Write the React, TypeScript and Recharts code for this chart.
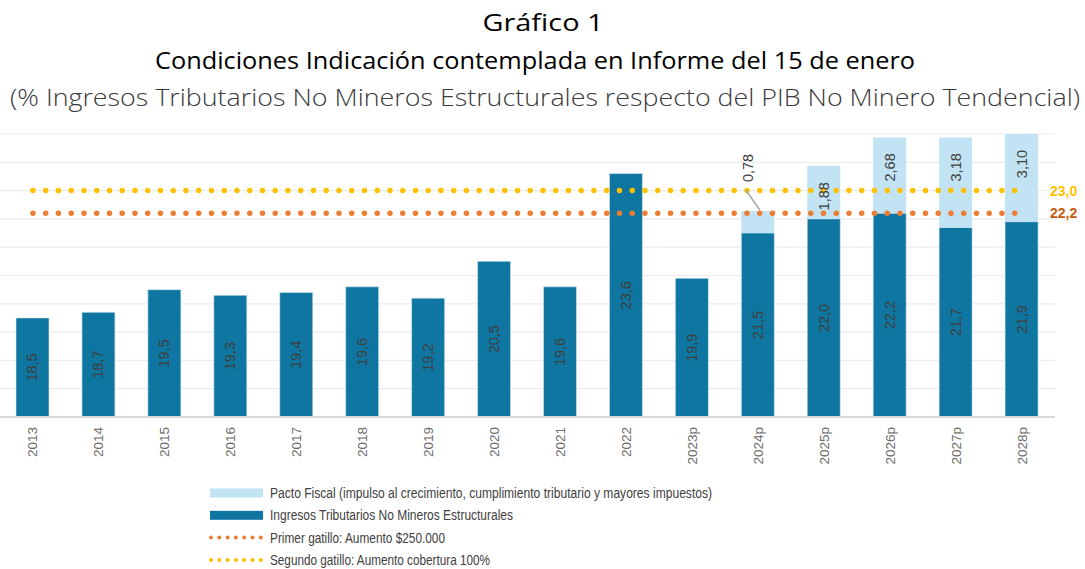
import { ComposedChart, Bar, Line, XAxis, YAxis, CartesianGrid, LabelList } from "recharts";

const years = ["2013", "2014", "2015", "2016", "2017", "2018", "2019", "2020", "2021", "2022", "2023p", "2024p", "2025p", "2026p", "2027p", "2028p"];
const ingresos = [18.5, 18.7, 19.5, 19.3, 19.4, 19.6, 19.2, 20.5, 19.6, 23.6, 19.9, 21.5, 22.0, 22.2, 21.7, 21.9];
const pacto = [null, null, null, null, null, null, null, null, null, null, null, 0.78, 1.88, 2.68, 3.18, 3.1];
const primerGatillo = [22.2, 22.2, 22.2, 22.2, 22.2, 22.2, 22.2, 22.2, 22.2, 22.2, 22.2, 22.2, 22.2, 22.2, 22.2, 22.2];
const segundoGatillo = [23.0, 23.0, 23.0, 23.0, 23.0, 23.0, 23.0, 23.0, 23.0, 23.0, 23.0, 23.0, 23.0, 23.0, 23.0, 23.0];
const yTicks = [15, 16, 17, 18, 19, 20, 21, 22, 23, 24, 25];

const data = years.map((y, i) => ({
  year: y,
  ingresos: ingresos[i],
  pacto: pacto[i],
  primer: primerGatillo[i],
  segundo: segundoGatillo[i],
}));

const DARK = "#0e76a0";
const LIGHT = "#c2e3f3";
const ORANGE = "#ed7d31";
const YELLOW = "#ffc000";
const LABEL = "#3f3f3f";
const FONT = "'Liberation Sans', Arial, sans-serif";

const comma = (v: number, d: number) => v.toFixed(d).replace(".", ",");

function YearTick(props: any) {
  const { x, y, payload } = props;
  return (
    <g transform={`translate(${x},${y + 2})`}>
      <text transform="rotate(-90)" textAnchor="end" dominantBaseline="central" fontSize={13.5} fill="#6b6b6b" fontFamily={FONT}>
        {payload.value}
      </text>
    </g>
  );
}

function IngresosLabel(props: any) {
  const vb = props.viewBox ?? props;
  const { x, width } = vb;
  if (props.value == null) return null;
  // la barra arranca en 0, así que el centro visible se calcula desde el eje (15)
  const top = vb.y;
  const bottom = 417;
  const cx = x + width / 2;
  const cy = (top + bottom) / 2;
  return (
    <text x={cx} y={cy} transform={`rotate(-90 ${cx} ${cy})`} textAnchor="middle" dominantBaseline="central" fontSize={14.5} fill={LABEL} fontFamily={FONT}>
      {comma(props.value, 1)}
    </text>
  );
}

function PactoLabel(props: any) {
  const vb = props.viewBox ?? props;
  const { x, y, width, height } = vb;
  if (props.value == null) return null;
  const cx = x + width / 2;
  const top = Math.min(y, y + height);
  const h = Math.abs(height);
  if (h < 35) {
    // etiqueta fuera con línea guía
    const lx = cx - 10;
    const ly = top - 43;
    return (
      <g>
        <line x1={cx - 12} y1={top - 21} x2={cx + 2} y2={top - 1} stroke="#a6a6a6" strokeWidth={1.5} />
        <text x={lx} y={ly} transform={`rotate(-90 ${lx} ${ly})`} textAnchor="middle" dominantBaseline="central" fontSize={14.5} fill={LABEL} fontFamily={FONT}>
          {comma(props.value, 2)}
        </text>
      </g>
    );
  }
  const cy = h > 70 ? top + 30 : top + h / 2 + 4;
  return (
    <text x={cx} y={cy} transform={`rotate(-90 ${cx} ${cy})`} textAnchor="middle" dominantBaseline="central" fontSize={14.5} fill={LABEL} fontFamily={FONT}>
      {comma(props.value, 2)}
    </text>
  );
}

function endLabel(color: string, digits: number) {
  return (props: any) => {
    if (props.index !== years.length - 1) return null;
    const vb = props.viewBox ?? props;
    return (
      <text x={vb.x + 28} y={vb.y} dominantBaseline="central" fontSize={14} fontWeight="bold" fill={color} fontFamily={FONT}>
        {comma(props.value, digits)}
      </text>
    );
  };
}

const legendItems = [
  { kind: "rect", color: LIGHT, text: "Pacto Fiscal (impulso al crecimiento, cumplimiento tributario y mayores impuestos)", len: 442 },
  { kind: "rect", color: DARK, text: "Ingresos Tributarios No Mineros Estructurales", len: 243 },
  { kind: "dots", color: ORANGE, text: "Primer gatillo: Aumento $250.000", len: 175 },
  { kind: "dots", color: YELLOW, text: "Segundo gatillo: Aumento cobertura 100%", len: 220 },
];

function Legend() {
  return (
    <svg width={700} height={90} style={{ position: "absolute", left: 200, top: 480 }}>
      {legendItems.map((it, i) => {
        const cy = 13 + i * 22.3;
        return (
          <g key={i}>
            {it.kind === "rect" ? (
              <rect x={10} y={cy - 4.5} width={53} height={9} fill={it.color} />
            ) : (
              [0, 1, 2, 3, 4, 5, 6].map((k) => <circle key={k} cx={11 + k * 8.3} cy={cy} r={2} fill={it.color} />)
            )}
            <text x={70} y={cy} dominantBaseline="central" fontSize={14} fill="#404040" fontFamily="'Liberation Sans Narrow', 'Liberation Sans', sans-serif" textLength={it.len} lengthAdjust="spacingAndGlyphs">
              {it.text}
            </text>
          </g>
        );
      })}
    </svg>
  );
}

function Titles() {
  return (
    <svg width={1085} height={120} style={{ position: "absolute", left: 0, top: 0 }}>
      <text x={543} y={22} textAnchor="middle" dominantBaseline="central" fontSize={23} fill="#000" fontFamily="'Open Sans', sans-serif" textLength={121} lengthAdjust="spacingAndGlyphs">
        Gráfico 1
      </text>
      <text x={535} y={60} textAnchor="middle" dominantBaseline="central" fontSize={23} fill="#000" fontFamily="'Open Sans', sans-serif" textLength={760} lengthAdjust="spacingAndGlyphs">
        Condiciones Indicación contemplada en Informe del 15 de enero
      </text>
      <text x={545} y={97} textAnchor="middle" dominantBaseline="central" fontSize={23} fill="#3a3a3a" fontFamily="'Open Sans', sans-serif" fontWeight={300} textLength={1070} lengthAdjust="spacingAndGlyphs">
        (% Ingresos Tributarios No Mineros Estructurales respecto del PIB No Minero Tendencial)
      </text>
    </svg>
  );
}

export default function App() {
  return (
    <div style={{ position: "absolute", left: 0, top: 0, width: 1085, height: 569, background: "#fff" }}>
      <Titles />
      <div style={{ position: "absolute", left: 0, top: 0 }}>
        <ComposedChart width={1085} height={569} data={data} margin={{ top: 134, right: 30, bottom: 92, left: 0 }} barSize={33}>
          <CartesianGrid vertical={false} stroke="#ececec" strokeWidth={1.2} />
          <XAxis dataKey="year" tick={<YearTick />} tickLine={false} axisLine={{ stroke: "#d9d9d9", strokeWidth: 2 }} interval={0} height={60} />
          <YAxis hide domain={[15, 25]} ticks={yTicks} allowDataOverflow width={0} />
          <Bar dataKey="ingresos" stackId="a" fill={DARK} stroke="#d6ebf5" strokeWidth={0.6} isAnimationActive={false}>
            <LabelList dataKey="ingresos" content={IngresosLabel} />
          </Bar>
          <Bar dataKey="pacto" stackId="a" fill={LIGHT} isAnimationActive={false}>
            <LabelList dataKey="pacto" content={PactoLabel} />
          </Bar>
          <Line dataKey="primer" stroke={ORANGE} strokeWidth={5.5} strokeDasharray="0 12.75" strokeLinecap="round" dot={false} activeDot={false} isAnimationActive={false}>
            <LabelList dataKey="primer" content={endLabel("#c65911", 1)} />
          </Line>
          <Line dataKey="segundo" stroke={YELLOW} strokeWidth={5.5} strokeDasharray="0 12.75" strokeLinecap="round" dot={false} activeDot={false} isAnimationActive={false}>
            <LabelList dataKey="segundo" content={endLabel(YELLOW, 1)} />
          </Line>
        </ComposedChart>
      </div>
      <Legend />
    </div>
  );
}
